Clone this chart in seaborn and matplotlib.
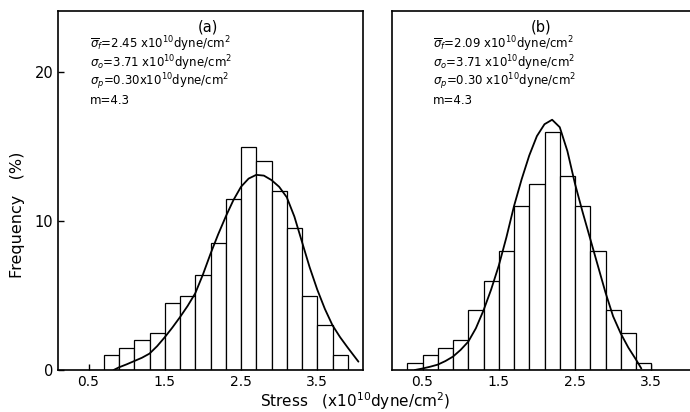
import numpy as np
import pandas as pd
import matplotlib
matplotlib.use("Agg")
import matplotlib.pyplot as plt
import seaborn as sns

# ---------------- data ----------------
edges_a = [0.7, 0.9, 1.1, 1.3, 1.5, 1.7, 1.9, 2.1, 2.3, 2.5, 2.7, 2.9, 3.1, 3.3, 3.5, 3.7, 3.9]
freq_a = [1.0, 1.5, 2.0, 2.5, 4.5, 5.0, 6.4, 8.5, 11.5, 15.0, 14.0, 12.0, 9.5, 5.0, 3.0, 1.0]

edges_b = [0.3, 0.5, 0.7, 0.9, 1.1, 1.3, 1.5, 1.7, 1.9, 2.1, 2.3, 2.5, 2.7, 2.9, 3.1, 3.3, 3.5]
freq_b = [0.5, 1.0, 1.5, 2.0, 4.0, 6.0, 8.0, 11.0, 12.5, 16.0, 13.0, 11.0, 8.0, 4.0, 2.5, 0.5]

curve_a_x = [0.83, 0.90, 1.00, 1.10, 1.20, 1.30, 1.40, 1.50, 1.60, 1.70, 1.80, 1.90,
             2.00, 2.10, 2.20, 2.30, 2.40, 2.50, 2.60, 2.70, 2.80, 2.90, 3.00, 3.10,
             3.20, 3.30, 3.40, 3.50, 3.60, 3.70, 3.80, 3.90, 4.04]
curve_a_y = [0.0, 0.18, 0.38, 0.60, 0.82, 1.10, 1.60, 2.20, 2.85, 3.55, 4.30, 5.15,
             6.40, 7.80, 9.10, 10.30, 11.40, 12.30, 12.85, 13.10, 13.05, 12.75, 12.30, 11.60,
             10.30, 8.60, 6.90, 5.40, 4.10, 3.00, 2.20, 1.50, 0.56]

curve_b_x = [0.40, 0.50, 0.60, 0.70, 0.80, 0.90, 1.00, 1.10, 1.20, 1.30, 1.40, 1.50,
             1.60, 1.70, 1.80, 1.90, 2.00, 2.10, 2.20, 2.30, 2.40, 2.50, 2.60, 2.70,
             2.80, 2.90, 3.00, 3.10, 3.20, 3.30, 3.37]
curve_b_y = [0.0, 0.10, 0.22, 0.36, 0.60, 0.90, 1.35, 1.90, 2.80, 4.00, 5.40, 7.00,
             8.90, 11.00, 12.80, 14.40, 15.70, 16.50, 16.80, 16.30, 14.70, 12.50, 10.60, 8.80,
             7.00, 5.20, 3.60, 2.45, 1.50, 0.70, 0.10]

x_ticks = [0.5, 1.5, 2.5, 3.5]
x_ticklabels = ["0.5", "1.5", "2.5", "3.5"]
y_ticks = [0, 10, 20]
y_ticklabels = ["0", "10", "20"]

notes_a = [r"$\overline{\sigma}_f$=2.45 x10$^{10}$dyne/cm$^2$",
           r"$\sigma_o$=3.71 x10$^{10}$dyne/cm$^2$",
           r"$\sigma_p$=0.30x10$^{10}$dyne/cm$^2$",
           "m=4.3"]
notes_b = [r"$\overline{\sigma}_f$=2.09 x10$^{10}$dyne/cm$^2$",
           r"$\sigma_o$=3.71 x10$^{10}$dyne/cm$^2$",
           r"$\sigma_p$=0.30 x10$^{10}$dyne/cm$^2$",
           "m=4.3"]
panel_labels = ["(a)", "(b)"]

# ---------------- figure ----------------
sns.set_style("ticks")
plt.rcParams["font.family"] = ["DejaVu Sans"]
plt.rcParams["mathtext.fontset"] = "dejavusans"
for k in ["text.color", "axes.labelcolor", "xtick.color", "ytick.color",
          "axes.edgecolor"]:
    plt.rcParams[k] = "black"

fig = plt.figure(figsize=(6.9, 4.12), dpi=100)
ax_w = 305 / 690
ax_b = 1 - 370 / 412
ax_h = (370 - 11) / 412
ax_a = fig.add_axes([58 / 690, ax_b, ax_w, ax_h])
ax_bb = fig.add_axes([392 / 690, ax_b, ax_w, ax_h])


def draw(ax, edges, freq, cx, cy, notes, label, tx):
    e = np.array(edges)
    df = pd.DataFrame({"stress": (e[:-1] + e[1:]) / 2, "freq": freq})
    sns.histplot(data=df, x="stress", weights="freq", bins=list(edges), ax=ax,
                 stat="count", color="white", edgecolor="black", linewidth=0.9,
                 alpha=1.0)
    cdf = pd.DataFrame({"x": cx, "y": cy})
    sns.lineplot(data=cdf, x="x", y="y", ax=ax, color="black", linewidth=1.3,
                 sort=False)
    ax.set_xlim(0.1, 4.1)
    ax.set_ylim(0, 24.1)
    ax.set_xticks(x_ticks)
    ax.set_xticklabels(x_ticklabels, fontsize=10)
    ax.tick_params(axis="both", direction="in", length=4, width=1.0,
                   colors="black")
    ax.set_xlabel("")
    ax.set_ylabel("")
    for s in ax.spines.values():
        s.set_visible(True)
        s.set_linewidth(1.2)
        s.set_color("black")
    ax.text(0.49, 0.955, label, transform=ax.transAxes, ha="center", va="center",
            fontsize=10.5)
    ys = [0.908, 0.855, 0.802, 0.752]
    for t, y in zip(notes, ys):
        ax.text(tx, y, t, transform=ax.transAxes, ha="left", va="center",
                fontsize=8.5)


draw(ax_a, edges_a, freq_a, curve_a_x, curve_a_y, notes_a, panel_labels[0], 0.105)
draw(ax_bb, edges_b, freq_b, curve_b_x, curve_b_y, notes_b, panel_labels[1], 0.134)

ax_a.set_yticks(y_ticks)
ax_a.set_yticklabels(y_ticklabels, fontsize=10.5)
ax_bb.set_yticks([])

fig.text(355 / 690, 1 - 401 / 412, r"Stress   (x10$^{10}$dyne/cm$^2$)",
         ha="center", va="center", fontsize=11)
fig.text(18 / 690, 1 - 215 / 412, "Frequency   (%)", rotation=90,
         ha="center", va="center", fontsize=11.5)

fig.savefig("out.png", dpi=100)
